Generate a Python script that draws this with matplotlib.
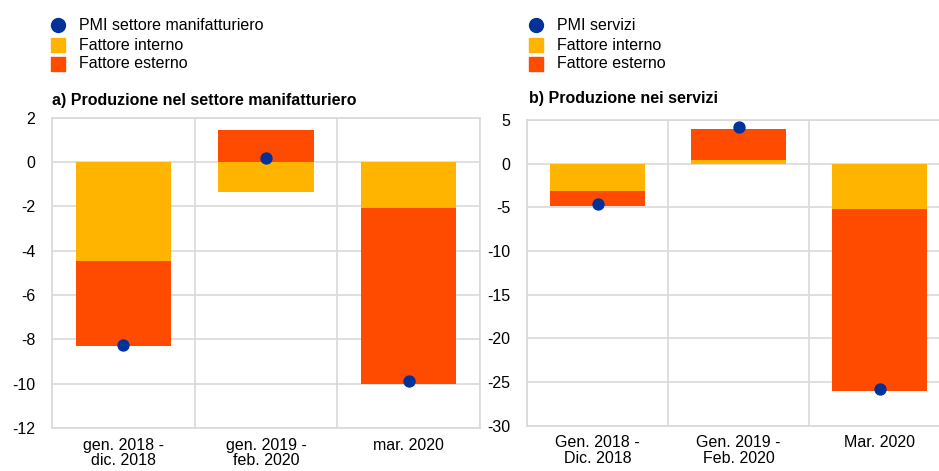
import matplotlib
matplotlib.use("Agg")
import matplotlib.pyplot as plt
import numpy as np
from matplotlib.lines import Line2D

plt.rcParams['font.family'] = ['Liberation Sans', 'DejaVu Sans']

# Panel a) manufacturing
cats_a = ["gen. 2018 -\ndic. 2018", "gen. 2019 -\nfeb. 2020", "mar. 2020"]
interno_a = [-4.45, -1.38, -2.1]
esterno_a = [-3.87, 1.43, -7.9]
pmi_a = [-8.24, 0.18, -9.9]

# Panel b) services
cats_b = ["Gen. 2018 -\nDic. 2018", "Gen. 2019 -\nFeb. 2020", "Mar. 2020"]
interno_b = [-3.17, 0.4, -5.2]
esterno_b = [-1.64, 3.55, -20.8]
pmi_b = [-4.66, 4.16, -25.85]

C_INT = "#FFB400"
C_EST = "#FF4B00"
C_PMI = "#003299"
GRID = "#d9d9d9"
FS = 11.5

W, H = 939, 471
fig = plt.figure(figsize=(W / 100, H / 100), dpi=100)


def px_axes(x0, x1, y0, y1):
    return fig.add_axes([x0 / W, 1 - y1 / H, (x1 - x0) / W, (y1 - y0) / H])


def stacked(ax, interno, esterno):
    x = np.arange(len(interno))
    b_est = [i if np.sign(i) == np.sign(e) else 0 for i, e in zip(interno, esterno)]
    ax.bar(x, interno, width=0.67, color=C_INT, zorder=2)
    ax.bar(x, esterno, bottom=b_est, width=0.67, color=C_EST, zorder=2)


def style(ax, cats, ylim, yticks):
    ax.set_xlim(-0.5, len(cats) - 0.5)
    ax.set_ylim(*ylim)
    ax.set_yticks(yticks)
    ax.set_yticklabels([str(t) for t in yticks])
    ax.set_xticks(np.arange(len(cats)))
    ax.set_xticklabels(cats, linespacing=1.05)
    ax.set_xticks(np.arange(len(cats) + 1) - 0.5, minor=True)
    ax.grid(True, which='minor', axis='x', color=GRID, lw=1.2, zorder=0)
    ax.grid(True, which='major', axis='y', color=GRID, lw=1.2, zorder=0)
    ax.tick_params(axis='both', which='both', length=0, labelsize=FS, colors='#000000')
    ax.tick_params(axis='y', pad=12)
    ax.tick_params(axis='x', pad=7)
    for s in ax.spines.values():
        s.set_color(GRID)
        s.set_linewidth(1.2)
    ax.set_axisbelow(True)


# Panel a
ax1 = px_axes(52, 480, 117.5, 428)
stacked(ax1, interno_a, esterno_a)
ax1.scatter(np.arange(3), pmi_a, s=62, color=C_PMI, zorder=4)
style(ax1, cats_a, (-12, 2), list(range(-12, 3, 2)))
fig.text(52 / W, 1 - 101 / H, "a) Produzione nel settore manifatturiero",
         fontsize=FS, fontweight='bold', va='center', ha='left')

# Panel b
ax2 = px_axes(527, 950, 120, 425.7)
stacked(ax2, interno_b, esterno_b)
ax2.scatter(np.arange(3), pmi_b, s=62, color=C_PMI, zorder=4)
style(ax2, cats_b, (-30, 5), list(range(-30, 6, 5)))
fig.text(529 / W, 1 - 99 / H, "b) Produzione nei servizi",
         fontsize=FS, fontweight='bold', va='center', ha='left')


def legend(x_marker, x_text, pmi_label):
    rows = [(25, 'o', C_PMI, pmi_label), (45, 's', C_INT, "Fattore interno"),
            (64, 's', C_EST, "Fattore esterno")]
    for y, m, c, lab in rows:
        fig.lines.append(Line2D([x_marker / W], [1 - y / H], marker=m, color=c,
                                markersize=10 if m == 'o' else 9.5, linestyle='None',
                                transform=fig.transFigure))
        fig.text(x_text / W, 1 - y / H, lab, fontsize=FS, va='center', ha='left')


legend(58, 79, "PMI settore manifatturiero")
legend(536, 557, "PMI servizi")

fig.savefig("out.png", dpi=100)
